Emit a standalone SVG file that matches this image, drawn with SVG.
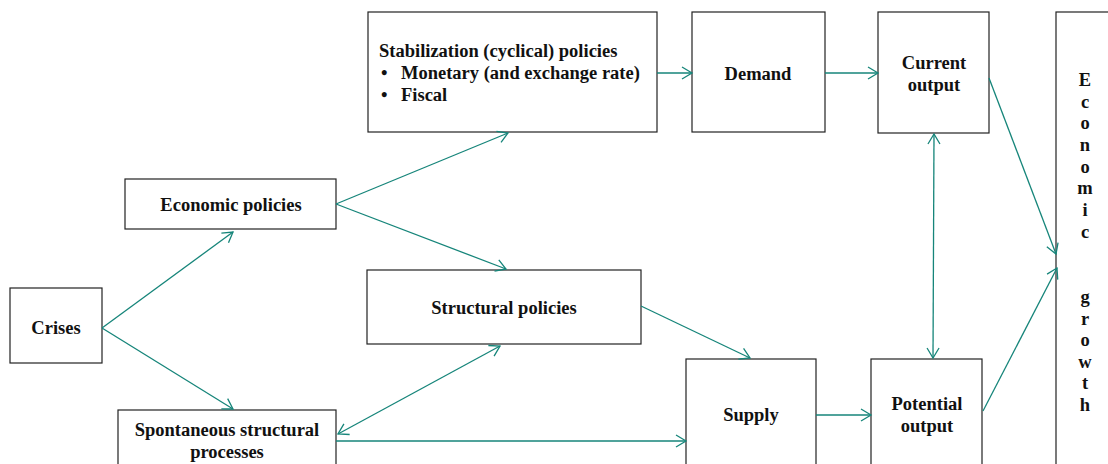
<svg xmlns="http://www.w3.org/2000/svg" width="1108" height="464" viewBox="0 0 1108 464">
<style>
.box{fill:#fff;stroke:#222;stroke-width:1.2}
.t{font-family:"Liberation Serif","Times New Roman",serif;font-weight:bold;font-size:18.5px;fill:#111}
.c{text-anchor:middle}
.con line{stroke:#16857a;stroke-width:1.3;fill:none}
</style>
<defs>
<marker id="a" markerUnits="userSpaceOnUse" markerWidth="14" markerHeight="14" viewBox="0 0 14 14" refX="12" refY="7" orient="auto-start-reverse">
<path d="M2,1 L12,7 L2,13" fill="none" stroke="#16857a" stroke-width="1.3"/>
</marker>
</defs>
<rect width="1108" height="464" fill="#fff"/>
<g id="crises"><rect class="box" x="10" y="288" width="92" height="75"/><text class="t c" x="56" y="334">Crises</text></g>
<g id="econ-policies"><rect class="box" x="125" y="179" width="211" height="50"/><text class="t c" x="231" y="211">Economic policies</text></g>
<g id="spontaneous"><rect class="box" x="118" y="410" width="218" height="60"/><text class="t c" x="227" y="436">Spontaneous structural</text><text class="t c" x="227" y="458">processes</text></g>
<g id="stabilization"><rect class="box" x="368" y="12" width="289" height="120"/><text class="t" x="379" y="57">Stabilization (cyclical) policies</text><text class="t" x="381" y="79">•</text><text class="t" x="401" y="79">Monetary (and exchange rate)</text><text class="t" x="381" y="101">•</text><text class="t" x="401" y="101">Fiscal</text></g>
<g id="structural"><rect class="box" x="367" y="270" width="274" height="74"/><text class="t c" x="504" y="314">Structural policies</text></g>
<g id="demand"><rect class="box" x="692" y="12" width="133" height="120"/><text class="t c" x="758" y="80">Demand</text></g>
<g id="current"><rect class="box" x="878" y="12" width="111" height="121"/><text class="t c" x="934" y="69">Current</text><text class="t c" x="934" y="91">output</text></g>
<g id="supply"><rect class="box" x="686" y="359" width="130" height="110"/><text class="t c" x="751" y="421">Supply</text></g>
<g id="potential"><rect class="box" x="871" y="359" width="111" height="110"/><text class="t c" x="927" y="410">Potential</text><text class="t c" x="927" y="432">output</text></g>
<g id="growth"><rect class="box" x="1056" y="12" width="60" height="460"/>
<text class="t c" x="1085" y="86">E</text><text class="t c" x="1085" y="108">c</text><text class="t c" x="1085" y="129">o</text><text class="t c" x="1085" y="151">n</text><text class="t c" x="1085" y="173">o</text><text class="t c" x="1085" y="194">m</text><text class="t c" x="1085" y="216">i</text><text class="t c" x="1085" y="238">c</text><text class="t c" x="1085" y="303">g</text><text class="t c" x="1085" y="325">r</text><text class="t c" x="1085" y="346">o</text><text class="t c" x="1085" y="368">w</text><text class="t c" x="1085" y="389">t</text><text class="t c" x="1085" y="411">h</text></g>
<g id="connectors" class="con">
<line x1="102" y1="328" x2="233" y2="232" marker-end="url(#a)"/>
<line x1="102" y1="328" x2="233" y2="409" marker-end="url(#a)"/>
<line x1="336" y1="204" x2="508" y2="133" marker-end="url(#a)"/>
<line x1="336" y1="204" x2="506" y2="269" marker-end="url(#a)"/>
<line x1="338" y1="434" x2="500" y2="346" marker-start="url(#a)" marker-end="url(#a)"/>
<line x1="336" y1="441" x2="686" y2="441" marker-end="url(#a)"/>
<line x1="641" y1="306" x2="750" y2="358" marker-end="url(#a)"/>
<line x1="657" y1="73" x2="692" y2="73" marker-end="url(#a)"/>
<line x1="825" y1="73" x2="878" y2="73" marker-end="url(#a)"/>
<line x1="934" y1="134" x2="933" y2="358" marker-start="url(#a)" marker-end="url(#a)"/>
<line x1="989" y1="78" x2="1056" y2="254" marker-end="url(#a)"/>
<line x1="983" y1="411" x2="1057" y2="268" marker-end="url(#a)"/>
<line x1="816" y1="415" x2="871" y2="415" marker-end="url(#a)"/>
</g>
</svg>
